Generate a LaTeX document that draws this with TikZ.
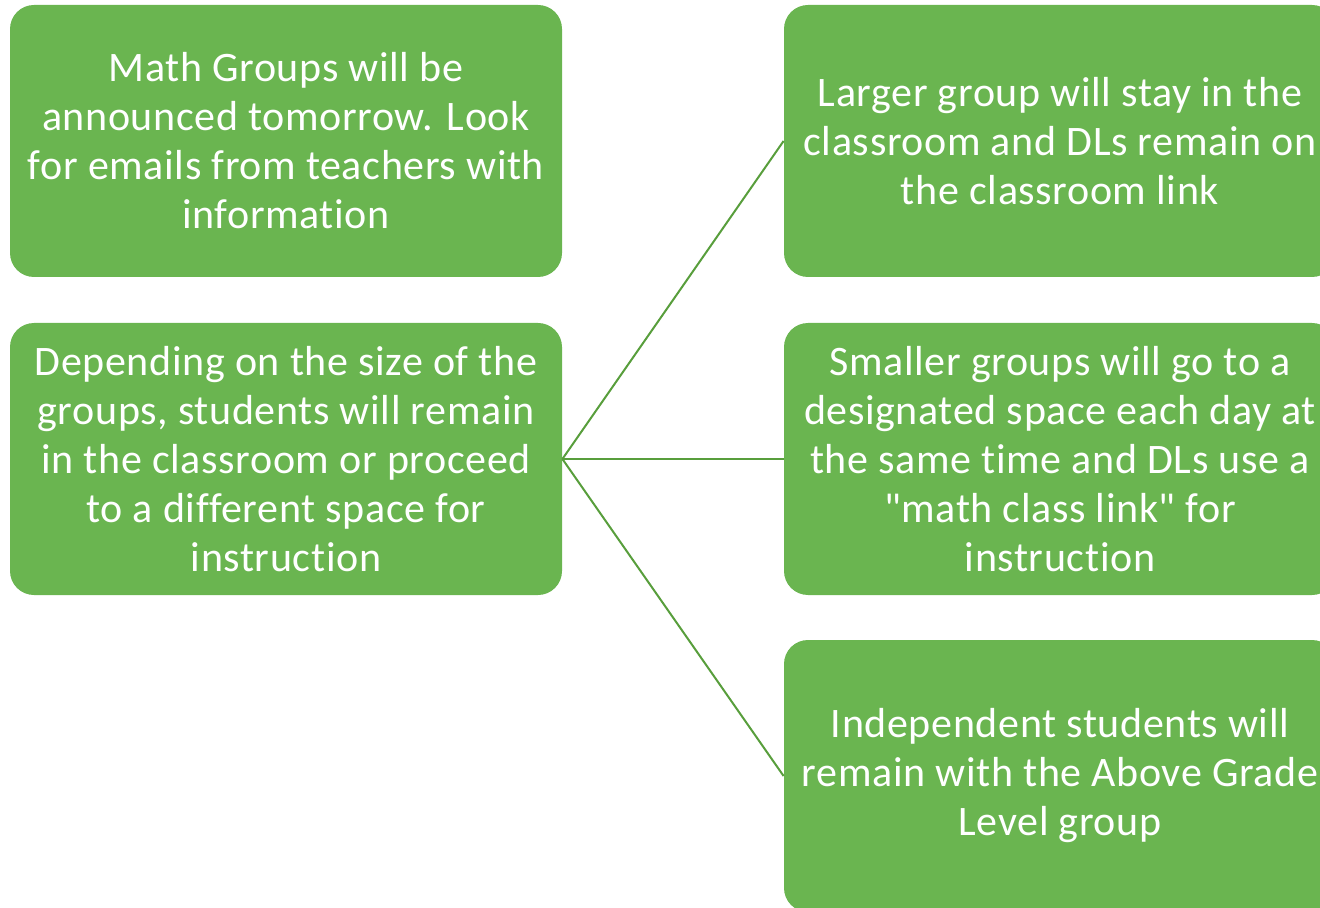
\documentclass[tikz,border=0pt]{standalone}
\usepackage{fontspec}
\setmainfont{Carlito}[Ligatures={TeXOff,NoCommon},LetterSpace=1.5]
\definecolor{boxgreen}{RGB}{106,181,80}
\definecolor{linegreen}{RGB}{88,158,60}
\begin{document}
\begin{tikzpicture}[x=0.5pt,y=-0.5pt,
  gbox/.style={draw=none,fill=boxgreen,rounded corners=12pt,minimum width=276pt,minimum height=136pt,
    text=white,align=center,font=\fontsize{21}{24.5}\selectfont,inner sep=0pt},
  conn/.style={draw=linegreen,line width=1pt}]
\useasboundingbox (0,0) rectangle (1320,908);
\begin{scope}
\clip (0,0) rectangle (1320,908);
\node[gbox] (a) at (286,141) {Math Groups will be\\announced tomorrow.  Look\\for emails from teachers with\\information};
\node[gbox] (b) at (286,459) {Depending on the size of the\\groups, students will remain\\in the classroom or proceed\\to a different space for\\instruction};
\node[gbox] (c) at (1060,141) {Larger group will stay in the\\classroom and DLs remain on\\the classroom link};
\node[gbox] (d) at (1060,459) {Smaller groups will go to a\\designated space each day at\\the same time and DLs use a\\"math class link" for\\instruction};
\node[gbox] (e) at (1060,776) {Independent students will\\remain with the Above Grade\\Level group};
\draw[conn] (b.east) -- (c.west);
\draw[conn] (b.east) -- (d.west);
\draw[conn] (b.east) -- (e.west);
\end{scope}
\end{tikzpicture}
\end{document}
